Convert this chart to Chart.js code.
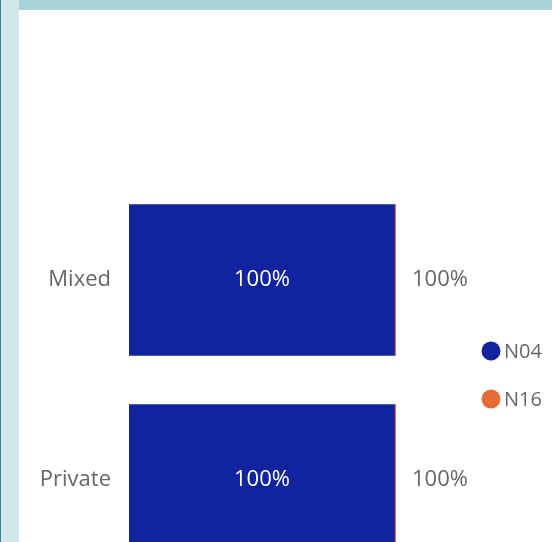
<!DOCTYPE html>
<html>
<head>
<meta charset="utf-8">
<script src="https://cdn.jsdelivr.net/npm/chart.js@4"></script>
<style>
  html, body { margin: 0; padding: 0; width: 552px; height: 542px; overflow: hidden; background: #fff; }
  .edge { position: absolute; left: 0; top: 0; width: 1px; height: 542px; background: #3b7f89; }
  .side { position: absolute; left: 1px; top: 0; width: 18px; height: 542px; background: #d0e8ea; }
  .top { position: absolute; left: 19px; top: 0; width: 533px; height: 10px; background: #a6d2d8; }
  .wrap { position: absolute; left: 0; top: 0; width: 552px; height: 604px; }
</style>
</head>
<body>
<div class="edge"></div>
<div class="side"></div>
<div class="top"></div>
<div class="wrap"><canvas id="chart" width="552" height="604"></canvas></div>
<script>
// categories and series
const categories = ['Mixed', 'Private'];
const seriesNames = ['N04', 'N16'];
const n04Values = [99.6, 99.6];
const n16Values = [0.4, 0.4];
const seriesColors = ['#12239E', '#E66C37'];

const FONT = '"Segoe UI", "Open Sans", "Noto Sans", sans-serif';
const GREY = '#666666';

// labels inside bars and totals to the right, plus the legend
const labelsPlugin = {
    id: 'labels',
    afterDatasetsDraw(chart) {
        const ctx = chart.ctx;
        const area = chart.chartArea;
        ctx.save();
        ctx.textBaseline = 'middle';
        ctx.font = '22px ' + FONT;

        const meta = chart.getDatasetMeta(0);
        meta.data.forEach((bar, i) => {
            ctx.fillStyle = '#ffffff';
            ctx.textAlign = 'center';
            const left = bar.base;
            ctx.fillText(Math.round(n04Values[i]) + '%', (left + bar.x) / 2, bar.y);

            const total = n04Values[i] + n16Values[i];
            const lastBar = chart.getDatasetMeta(1).data[i];
            ctx.fillStyle = GREY;
            ctx.textAlign = 'left';
            ctx.fillText(Math.round(total) + '%', lastBar.x + 16, bar.y);
        });

        // legend
        const cy = (area.top + area.bottom) / 2;
        const lx = area.right + 95;
        ctx.font = '20px ' + FONT;
        seriesNames.forEach((name, i) => {
            const y = cy - 29 + i * 48;
            ctx.fillStyle = seriesColors[i];
            ctx.beginPath();
            ctx.arc(lx, y, 9.5, 0, Math.PI * 2);
            ctx.fill();
            ctx.fillStyle = GREY;
            ctx.textAlign = 'left';
            ctx.fillText(name, lx + 13, y + 1);
        });
        ctx.restore();
    }
};

new Chart(document.getElementById('chart'), {
    type: 'bar',
    data: {
        labels: categories,
        datasets: [
            { label: seriesNames[0], data: n04Values, backgroundColor: seriesColors[0] },
            { label: seriesNames[1], data: n16Values, backgroundColor: seriesColors[1] },
        ],
    },
    options: {
        indexAxis: 'y',
        responsive: false,
        animation: false,
        devicePixelRatio: 1,
        layout: { padding: { top: 180, bottom: 24, right: 156, left: 0 } },
        datasets: { bar: { categoryPercentage: 1, barPercentage: 0.758 } },
        plugins: { legend: { display: false }, tooltip: { enabled: false } },
        scales: {
            x: { stacked: true, display: false, min: 0, max: 100 },
            y: {
                stacked: true,
                grid: { display: false },
                border: { display: false },
                ticks: { color: GREY, font: { size: 22, family: FONT }, padding: 10 },
                afterFit(scale) { scale.width = 129; },
            },
        },
    },
    plugins: [labelsPlugin],
});
</script>
</body>
</html>
